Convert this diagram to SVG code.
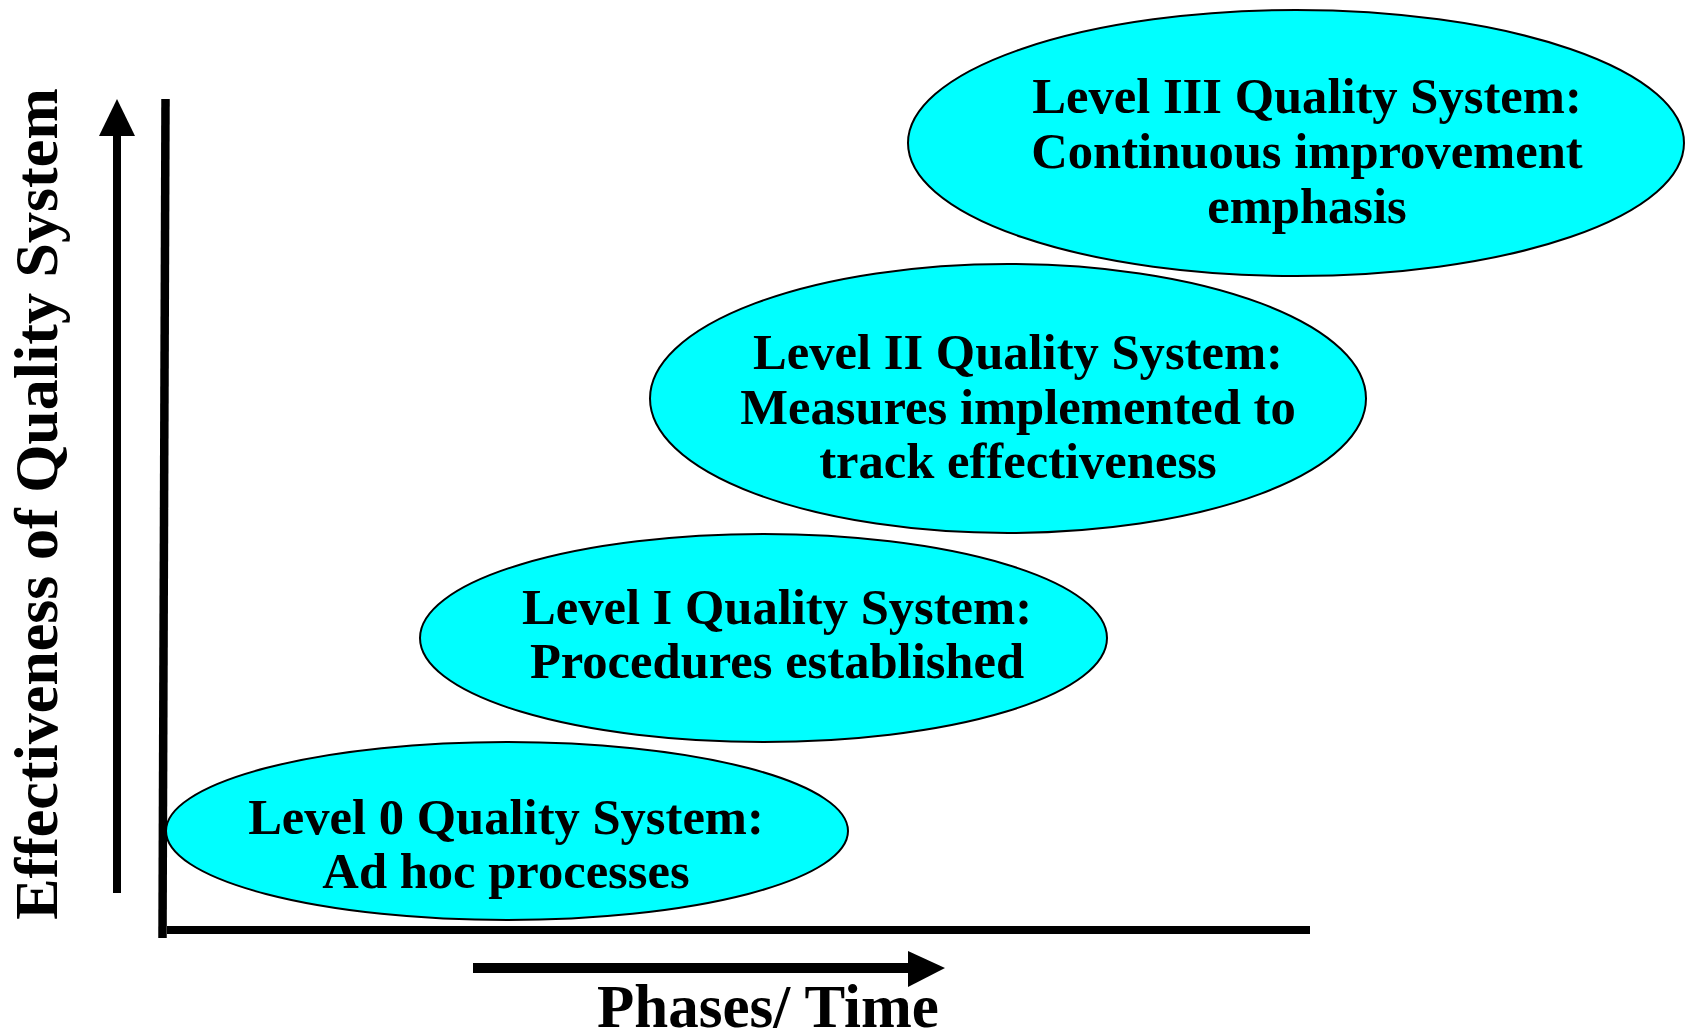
<svg xmlns="http://www.w3.org/2000/svg" width="1685" height="1036" viewBox="0 0 1685 1036">
<style>
.bg{fill:#ffffff}
.ell{fill:#00ffff;stroke:#000000;stroke-width:2}
.lbl{font-family:"Liberation Serif","Times New Roman",serif;font-weight:bold;font-size:50.6px;fill:#000000;text-anchor:middle}
.axt{font-family:"Liberation Serif","Times New Roman",serif;font-weight:bold;fill:#000000;text-anchor:middle}
.ax{stroke:#000000;fill:none}
</style>
<rect class="bg" x="0" y="0" width="1685" height="1036"/>
<g id="connectors">
  <line class="ax" x1="165.5" y1="99" x2="162.5" y2="938" stroke-width="8.5"/>
  <line class="ax" x1="167" y1="930" x2="1310" y2="930" stroke-width="8"/>
  <line class="ax" x1="117" y1="134" x2="117" y2="893" stroke-width="8"/>
  <polygon points="99,136 135,136 117,99" fill="#000000"/>
  <line class="ax" x1="473" y1="968" x2="910" y2="968" stroke-width="10"/>
  <polygon points="908,951 908,987 945,968" fill="#000000"/>
</g>
<g id="level3">
  <ellipse class="ell" cx="1296" cy="143" rx="388" ry="133"/>
  <text class="lbl" x="1307" y="113">Level III Quality System:</text>
  <text class="lbl" x="1307" y="168">Continuous improvement</text>
  <text class="lbl" x="1307" y="223">emphasis</text>
</g>
<g id="level2">
  <ellipse class="ell" cx="1008" cy="398.5" rx="358" ry="134.5"/>
  <text class="lbl" x="1018" y="369">Level II Quality System:</text>
  <text class="lbl" x="1018" y="424">Measures implemented to</text>
  <text class="lbl" x="1018" y="478">track effectiveness</text>
</g>
<g id="level1">
  <ellipse class="ell" cx="763.5" cy="638" rx="343.5" ry="104"/>
  <text class="lbl" x="777" y="624">Level I Quality System:</text>
  <text class="lbl" x="777" y="678">Procedures established</text>
</g>
<g id="level0">
  <ellipse class="ell" cx="507" cy="831" rx="341" ry="89"/>
  <text class="lbl" x="506" y="834">Level 0 Quality System:</text>
  <text class="lbl" x="506" y="888">Ad hoc processes</text>
</g>
<g id="axis-labels">
  <text class="axt" font-size="62" transform="translate(57,504) rotate(-90)">Effectiveness of Quality System</text>
  <text class="axt" font-size="61" x="768" y="1027">Phases/ Time</text>
</g>
</svg>
